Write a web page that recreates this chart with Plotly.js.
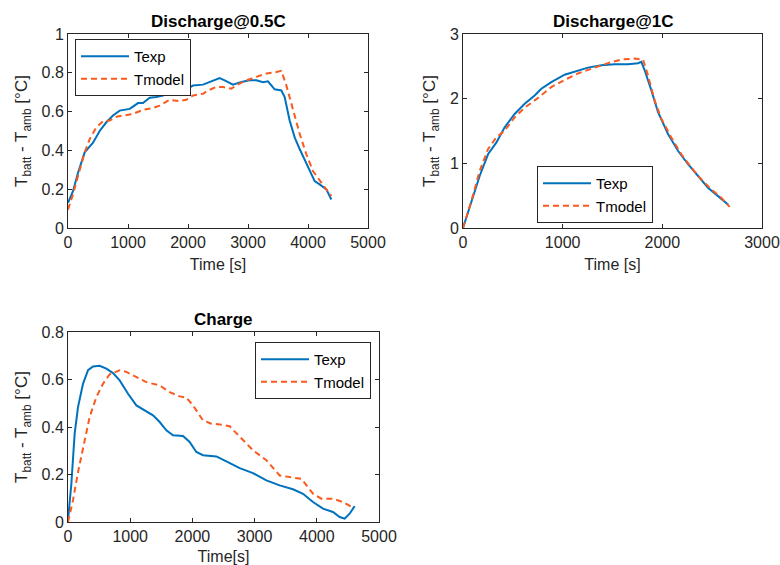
<!DOCTYPE html>
<html>
<head>
<meta charset="utf-8">
<script src="https://cdn.plot.ly/plotly-3.0.1.min.js"></script>
<style>html,body{margin:0;padding:0;background:#fff;}#chart{width:780px;height:565px;}</style>
</head>
<body>
<div id="chart"></div>
<script>
// Discharge@0.5C
const d05ExpT = [0,83,167,278,417,528,639,750,861,1028,1083,1167,1250,1361,1472,1583,1694,1806,1972,2083,2250,2417,2528,2611,2750,2889,3028,3139,3250,3333,3444,3556,3611,3694,3778,3861,3972,4056,4111,4194,4306,4389];
const d05ExpV = [0.13,0.19,0.285,0.39,0.44,0.50,0.545,0.58,0.605,0.614,0.626,0.644,0.644,0.671,0.675,0.683,0.706,0.718,0.715,0.734,0.739,0.761,0.773,0.761,0.739,0.753,0.761,0.761,0.751,0.756,0.715,0.709,0.675,0.554,0.467,0.407,0.337,0.277,0.242,0.225,0.199,0.147];
const d05ModT = [0,83,167,278,361,472,583,694,806,972,1083,1250,1417,1528,1694,1861,1972,2083,2250,2333,2472,2583,2722,2806,2972,3139,3306,3472,3556,3639,3750,3861,3972,4083,4222,4306,4389];
const d05ModV = [0.095,0.173,0.268,0.39,0.458,0.519,0.55,0.554,0.574,0.583,0.588,0.609,0.619,0.631,0.661,0.654,0.661,0.683,0.692,0.709,0.727,0.727,0.718,0.735,0.761,0.779,0.796,0.804,0.81,0.735,0.606,0.486,0.38,0.294,0.234,0.199,0.164];

// Discharge@1C
const d1ExpT = [0,84,167,251,334,418,518,619,719,786,886,1020,1154,1254,1388,1522,1656,1756,1789,1823,1890,1957,2057,2157,2258,2358,2458,2559,2659];
const d1ExpV = [0,0.389,0.804,1.14,1.32,1.557,1.764,1.92,2.05,2.154,2.257,2.37,2.439,2.48,2.517,2.532,2.532,2.548,2.569,2.439,2.128,1.79,1.453,1.194,0.986,0.804,0.623,0.493,0.363];
const d1ModT = [0,84,167,251,334,418,518,619,752,886,1020,1154,1321,1455,1589,1722,1806,1856,1923,1990,2090,2191,2291,2391,2492,2592,2676];
const d1ModV = [0,0.415,0.882,1.22,1.40,1.505,1.71,1.86,2.01,2.18,2.29,2.39,2.48,2.55,2.605,2.62,2.605,2.36,1.97,1.69,1.40,1.14,0.934,0.752,0.597,0.467,0.327];

// Charge
const chExpT = [0,54,107,161,241,322,402,509,616,724,831,965,1099,1259,1367,1474,1581,1688,1849,1956,2063,2170,2385,2546,2760,2974,3189,3403,3617,3778,3939,4100,4260,4368,4448,4528,4609];
const chExpV = [0.007,0.161,0.372,0.484,0.582,0.639,0.655,0.658,0.646,0.627,0.596,0.54,0.491,0.466,0.449,0.421,0.386,0.365,0.362,0.337,0.295,0.281,0.276,0.255,0.227,0.206,0.175,0.154,0.138,0.119,0.084,0.056,0.042,0.021,0.014,0.035,0.067];
const chModT = [0,80,161,241,348,456,563,670,831,938,1099,1259,1474,1635,1795,1902,2010,2170,2304,2438,2599,2760,2974,3189,3403,3564,3751,3939,4073,4260,4421,4582];
const chModV = [0,0.091,0.21,0.316,0.442,0.526,0.582,0.622,0.639,0.632,0.611,0.589,0.575,0.547,0.529,0.524,0.491,0.428,0.414,0.411,0.403,0.358,0.302,0.26,0.196,0.189,0.182,0.119,0.098,0.098,0.084,0.06];

const seriesNames = ['Texp','Tmodel'];
const panelTitles = ['Discharge@0.5C','Discharge@1C','Charge'];
const xTitles = ['Time [s]','Time [s]','Time[s]'];
const yTitle = 'T<sub>batt</sub> - T<sub>amb</sub> [°C]';

const BLUE = '#0072BD', ORANGE = '#FA5A1E';
const FONT = 'Liberation Sans, Arial, sans-serif';

function pair(xa, ya, leg, te, ve, tm, vm){
  return [
    {x: te, y: ve, name: seriesNames[0], xaxis: xa, yaxis: ya, legend: leg, mode: 'lines',
     line: {color: BLUE, width: 2}},
    {x: tm, y: vm, name: seriesNames[1], xaxis: xa, yaxis: ya, legend: leg, mode: 'lines',
     line: {color: ORANGE, width: 2, dash: '6px,4px'}}
  ];
}

const data = [
  ...pair('x','y','legend', d05ExpT, d05ExpV, d05ModT, d05ModV),
  ...pair('x2','y2','legend2', d1ExpT, d1ExpV, d1ModT, d1ModV),
  ...pair('x3','y3','legend3', chExpT, chExpV, chModT, chModV)
];

const W = 780, H = 565;
function ax(extra){
  return Object.assign({
    showline: true, linecolor: '#262626', linewidth: 1, mirror: 'ticks',
    ticks: 'inside', ticklen: 4, tickcolor: '#262626', tickwidth: 1,
    showgrid: false, zeroline: false, automargin: false,
    tickfont: {family: FONT, size: 16, color: '#262626'}
  }, extra);
}
function xd(l, r){ return [l/W, r/W]; }
function yd(t, b){ return [1 - b/H, 1 - t/H]; }

const xt = (t) => ({text: t, font: {family: FONT, size: 16, color: '#262626'}, standoff: 8});
const yt = {text: yTitle, font: {family: FONT, size: 17, color: '#262626'}, standoff: 9};

const legendBase = {
  bgcolor: '#ffffff', bordercolor: '#262626', borderwidth: 1,
  font: {family: FONT, size: 15, color: '#000'},
  itemwidth: 48, xanchor: 'left', yanchor: 'top', tracegroupgap: 0,
  xref: 'paper', yref: 'paper'
};

const layout = {
  width: W, height: H,
  margin: {l: 0, r: 0, t: 0, b: 0},
  paper_bgcolor: '#ffffff', plot_bgcolor: '#ffffff',
  showlegend: true,
  xaxis: ax({domain: xd(68, 368), range: [0, 5000], dtick: 1000, anchor: 'y', title: xt(xTitles[0])}),
  yaxis: ax({domain: yd(34, 228), range: [0, 1], dtick: 0.2, anchor: 'x', title: yt}),
  xaxis2: ax({domain: xd(463, 762), range: [0, 3000], dtick: 1000, anchor: 'y2', title: xt(xTitles[1])}),
  yaxis2: ax({domain: yd(34, 228), range: [0, 3], dtick: 1, anchor: 'x2', title: yt}),
  xaxis3: ax({domain: xd(68, 379), range: [0, 5000], dtick: 1000, anchor: 'y3', title: xt(xTitles[2])}),
  yaxis3: ax({domain: yd(332, 522), range: [0, 0.8], dtick: 0.2, anchor: 'x3', title: yt}),
  legend: Object.assign({}, legendBase, {x: 75/W, y: 1 - 39/H}),
  legend2: Object.assign({}, legendBase, {x: 537/W, y: 1 - 166/H}),
  legend3: Object.assign({}, legendBase, {x: 255/W, y: 1 - 342/H}),
  annotations: [
    {text: '<b>' + panelTitles[0] + '</b>', x: 218/W, y: 1 - 22/H},
    {text: '<b>' + panelTitles[1] + '</b>', x: 613/W, y: 1 - 22/H},
    {text: '<b>' + panelTitles[2] + '</b>', x: 223/W, y: 1 - 319/H}
  ].map(a => Object.assign(a, {xref: 'paper', yref: 'paper', showarrow: false,
      xanchor: 'center', yanchor: 'middle', font: {family: FONT, size: 17, color: '#000'}}))
};

Plotly.newPlot('chart', data, layout, {displayModeBar: false, staticPlot: true});
</script>
</body>
</html>
